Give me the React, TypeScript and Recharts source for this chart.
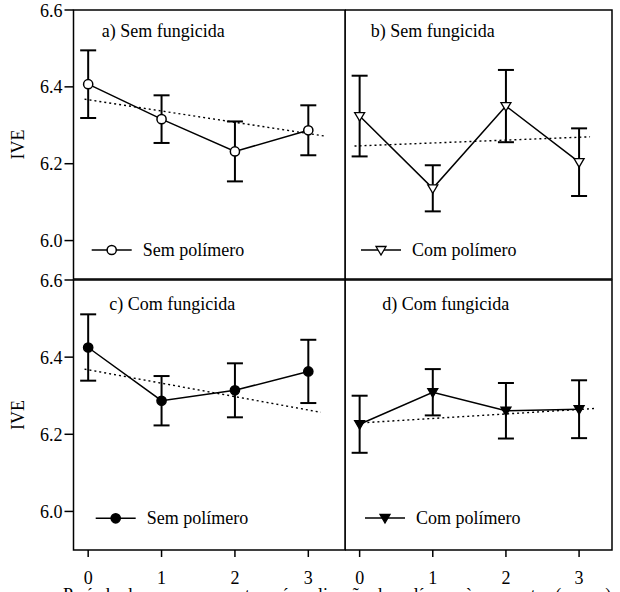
import {
  ComposedChart,
  Line,
  XAxis,
  YAxis,
  ErrorBar,
  ReferenceArea,
  Customized,
} from "recharts"

const FONT = '"Liberation Serif", "Times New Roman", serif'

const months = [0, 1, 2, 3]
const yTicks = [6.0, 6.2, 6.4, 6.6]

// a) Sem fungicida, sem polímero
const aValues = [6.407, 6.316, 6.232, 6.287]
const aErrors = [0.088, 0.062, 0.078, 0.065]
const aTrendX = [-0.05, 3.22]
const aTrendY = [6.368, 6.272]

// b) Sem fungicida, com polímero
const bValues = [6.324, 6.136, 6.35, 6.204]
const bErrors = [0.105, 0.06, 0.094, 0.088]
const bTrendX = [-0.07, 3.15]
const bTrendY = [6.246, 6.27]

// c) Com fungicida, sem polímero
const cValues = [6.425, 6.287, 6.314, 6.363]
const cErrors = [0.086, 0.064, 0.07, 0.082]
const cTrendX = [-0.05, 3.17]
const cTrendY = [6.369, 6.257]

// d) Com fungicida, com polímero
const dValues = [6.226, 6.309, 6.261, 6.265]
const dErrors = [0.074, 0.06, 0.072, 0.075]
const dTrendX = [-0.03, 3.22]
const dTrendY = [6.229, 6.267]

type MarkerKind = "openCircle" | "filledCircle" | "openTri" | "filledTri"

function Marker({ kind, cx, cy }: { kind: MarkerKind; cx: number; cy: number }) {
  if (kind === "openCircle" || kind === "filledCircle") {
    return (
      <circle
        cx={cx}
        cy={cy}
        r={4.6}
        fill={kind === "filledCircle" ? "#000" : "#fff"}
        stroke="#000"
        strokeWidth={1.5}
      />
    )
  }
  const d = `M${cx - 5},${cy - 3.5} L${cx + 5},${cy - 3.5} L${cx},${cy + 5} Z`
  return (
    <path
      d={d}
      fill={kind === "filledTri" ? "#000" : "#fff"}
      stroke="#000"
      strokeWidth={1.3}
    />
  )
}

type PanelProps = {
  values: number[]
  errors: number[]
  trendX: number[]
  trendY: number[]
  title: string
  legend: string
  marker: MarkerKind
  left: number
  top: number
  leftCol: boolean
  bottomRow: boolean
  titlePos: [number, number]
  legendPos: [number, number]
}

function Panel(p: PanelProps) {
  const data = months.map((m, i) => ({ x: m, y: p.values[i], err: p.errors[i] }))
  const trend = p.trendX.map((x, i) => ({ x, y: p.trendY[i] }))
  const xDomain = p.leftCol ? [-0.2, 3.5] : [-0.2, 3.45]
  const width = p.leftCol ? 350 : 272
  const height = p.bottomRow ? 322 : 290
  const [tx, ty] = p.titlePos
  const [lx, ly] = p.legendPos

  return (
    <div style={{ position: "absolute", left: p.left, top: p.top }}>
      <ComposedChart
        width={width}
        height={height}
        data={data}
        margin={{ top: 10, right: 5, left: 0, bottom: p.bottomRow ? 0 : 11 }}
      >
        <ReferenceArea
          x1={xDomain[0]}
          x2={xDomain[1]}
          y1={5.9}
          y2={6.6}
          fill="none"
          stroke="#000"
          strokeWidth={1.5}
          ifOverflow="visible"
        />
        {p.bottomRow ? (
          <XAxis
            type="number"
            dataKey="x"
            domain={xDomain}
            ticks={months}
            allowDataOverflow
            axisLine={false}
            height={42}
            tickSize={7}
            tickMargin={14}
            tickLine={{ stroke: "#000", strokeWidth: 1.5 }}
            tick={{ fill: "#000", fontSize: 18, fontFamily: FONT }}
          />
        ) : (
          <XAxis
            type="number"
            dataKey="x"
            domain={xDomain}
            ticks={months}
            allowDataOverflow
            axisLine={false}
            mirror
            tick={false}
            tickSize={6}
            tickLine={{ stroke: "#000", strokeWidth: 1.5 }}
          />
        )}
        <YAxis
          domain={[5.9, 6.6]}
          ticks={yTicks}
          allowDataOverflow
          hide={!p.leftCol}
          width={p.leftCol ? 73.5 : 0}
          axisLine={false}
          tickSize={9}
          tickMargin={2}
          tickLine={{ stroke: "#000", strokeWidth: 1.5 }}
          tick={{ fill: "#000", fontSize: 18, fontFamily: FONT }}
          tickFormatter={(v: number) => v.toFixed(1)}
        />
        <Line
          data={trend}
          dataKey="y"
          stroke="#000"
          strokeWidth={1.4}
          strokeDasharray="2 3"
          dot={false}
          isAnimationActive={false}
        />
        <Line
          dataKey="y"
          stroke="#000"
          strokeWidth={1.5}
          isAnimationActive={false}
          dot={(d: any) => (
            <Marker key={`m-${d.index}`} kind={p.marker} cx={d.cx} cy={d.cy} />
          )}
        >
          <ErrorBar
            dataKey="err"
            direction="y"
            width={8}
            stroke="#000"
            strokeWidth={2}
            isAnimationActive={false}
          />
        </Line>
        <Customized
          component={() => (
            <g fontFamily={FONT} fontSize={18} fill="#000">
              <text x={tx} y={ty}>
                {p.title}
              </text>
              <line x1={lx} x2={lx + 40} y1={ly} y2={ly} stroke="#000" strokeWidth={1.5} />
              <Marker kind={p.marker} cx={lx + 20} cy={ly} />
              <text x={lx + 51} y={ly + 6}>
                {p.legend}
              </text>
              {p.leftCol && (
                <text
                  x={0}
                  y={0}
                  textAnchor="middle"
                  transform={`translate(23.5, ${p.bottomRow ? 145 : 144.5}) rotate(-90)`}
                >
                  IVE
                </text>
              )}
            </g>
          )}
        />
      </ComposedChart>
    </div>
  )
}

export default function App() {
  return (
    <div
      style={{
        position: "absolute",
        left: 0,
        top: 0,
        width: 620,
        height: 592,
        background: "#fff",
        overflow: "hidden",
      }}
    >
      <Panel
        values={aValues}
        errors={aErrors}
        trendX={aTrendX}
        trendY={aTrendY}
        title="a) Sem fungicida"
        legend="Sem polímero"
        marker="openCircle"
        left={0}
        top={0}
        leftCol
        bottomRow={false}
        titlePos={[101.7, 37]}
        legendPos={[91.7, 250]}
      />
      <Panel
        values={bValues}
        errors={bErrors}
        trendX={bTrendX}
        trendY={bTrendY}
        title="b) Sem fungicida"
        legend="Com polímero"
        marker="openTri"
        left={345}
        top={0}
        leftCol={false}
        bottomRow={false}
        titlePos={[25.7, 37]}
        legendPos={[16, 250]}
      />
      <Panel
        values={cValues}
        errors={cErrors}
        trendX={cTrendX}
        trendY={cTrendY}
        title="c) Com fungicida"
        legend="Sem polímero"
        marker="filledCircle"
        left={0}
        top={270}
        leftCol
        bottomRow
        titlePos={[109.3, 40]}
        legendPos={[95.7, 248.3]}
      />
      <Panel
        values={dValues}
        errors={dErrors}
        trendX={dTrendX}
        trendY={dTrendY}
        title="d) Com fungicida"
        legend="Com polímero"
        marker="filledTri"
        left={345}
        top={270}
        leftCol={false}
        bottomRow
        titlePos={[37.3, 40]}
        legendPos={[20, 248]}
      />
      <svg
        width={620}
        height={592}
        style={{ position: "absolute", left: 0, top: 0, pointerEvents: "none" }}
      >
        <text x={63} y={600.5} fontFamily={FONT} fontSize={18} fill="#000">
          Período de armazenamento após aplicação do polímero às sementes (meses)
        </text>
      </svg>
    </div>
  )
}
